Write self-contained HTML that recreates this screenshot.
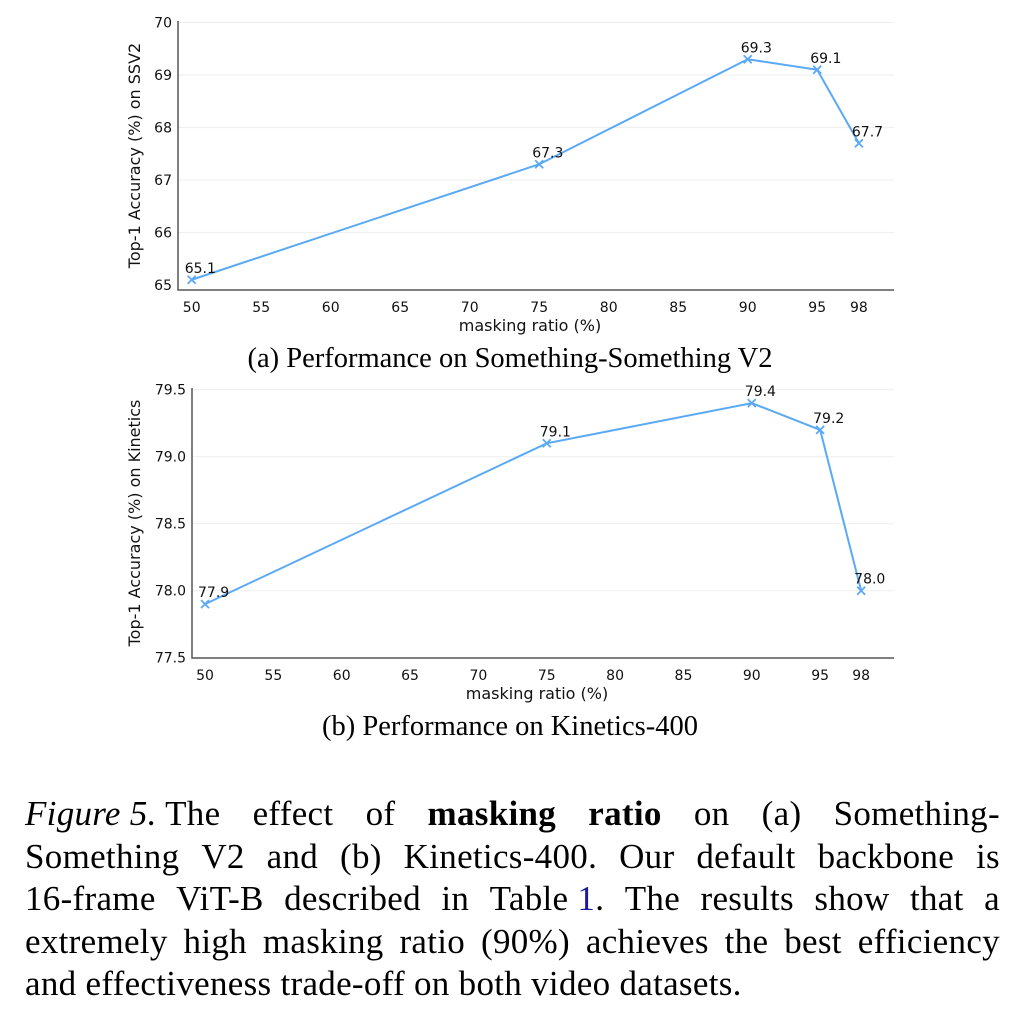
<!DOCTYPE html>
<html><head><meta charset="utf-8">
<style>
body{margin:0;background:#fff;width:1032px;height:1016px;overflow:hidden;position:relative;font-family:"Liberation Serif",serif}
svg{position:absolute;left:0;top:0}
.cap{position:absolute;font-size:28.5px;color:#000;text-align:center;width:1032px;left:0}
.ln{position:absolute;left:25px;width:975px;font-size:35px;letter-spacing:0.3px;line-height:34px;white-space:nowrap;display:flex;justify-content:space-between}
.ln.last{display:block}
</style></head><body>
<svg id="chart" width="1032" height="760" font-family="DejaVu Sans, sans-serif"></svg>
<div class="cap" style="top:343px;left:-6px">(a) Performance on Something-Something V2</div>
<div class="cap" style="top:711px;left:-6px">(b) Performance on Kinetics-400</div>
<div>
<div class="ln" style="top:797px"><span><i>Figure 5.</i> The</span><span>effect</span><span>of</span><b>masking</b><b>ratio</b><span>on</span><span>(a)</span><span>Something-</span></div>
<div class="ln" style="top:840px"><span>Something</span><span>V2</span><span>and</span><span>(b)</span><span>Kinetics-400.</span><span>Our</span><span>default</span><span>backbone</span><span>is</span></div>
<div class="ln" style="top:882px"><span>16-frame</span><span>ViT-B</span><span>described</span><span>in</span><span>Table <span style="color:#1a1a9a">1</span>.</span><span>The</span><span>results</span><span>show</span><span>that</span><span>a</span></div>
<div class="ln" style="top:925px"><span>extremely</span><span>high</span><span>masking</span><span>ratio</span><span>(90%)</span><span>achieves</span><span>the</span><span>best</span><span>efficiency</span></div>
<div class="ln last" style="top:967px">and effectiveness trade-off on both video datasets.</div>
</div>
<script>
const xCats=[50,75,90,95,98];
const xTicks=[50,55,60,65,70,75,80,85,90,95,98];
const ssv2Vals=[65.1,67.3,69.3,69.1,67.7];
const ssv2Ticks=[65,66,67,68,69,70];
const k400Vals=[77.9,79.1,79.4,79.2,78.0];
const k400Ticks=[77.5,78.0,78.5,79.0,79.5];
const NS='http://www.w3.org/2000/svg';
const svg=document.getElementById('chart');
function mk(tag,attrs,parent){const e=document.createElementNS(NS,tag);for(const k in attrs)e.setAttribute(k,attrs[k]);(parent||svg).appendChild(e);return e;}
function draw(cfg){
  const g=mk('g',{});
  
  
  const X=v=>cfg.x0+(v-50)*cfg.xs;
  const Y=v=>cfg.yBase-(v-cfg.yMin)*cfg.ys;
  cfg.yTicks.forEach((t,i)=>{
    const y=Y(t);
    if(i>0){const gl=mk('line',{x1:cfg.left,x2:cfg.right,y1:y,y2:y,stroke:'#f0f0f0','stroke-width':1.2},g);
    
    }
    const tx=mk('text',{x:cfg.left-6,y:y+5,'text-anchor':'end','font-size':14,fill:'#111'},g);
    tx.textContent=cfg.fmt(t);
    
    
  });
  xTicks.forEach(t=>{
    const tx=mk('text',{x:X(t),y:cfg.bottom+22,'text-anchor':'middle','font-size':14,fill:'#111'},g);
    tx.textContent=t;
    
    
  });
  const ax=mk('path',{d:`M${cfg.left},${cfg.top}V${cfg.bottom}H${cfg.right}`,fill:'none',stroke:'#555','stroke-width':1.5},g);
  
  
  const pts=xCats.map((c,i)=>X(c)+','+Y(cfg.vals[i])).join(' ');
  const pl=mk('polyline',{points:pts,fill:'none',stroke:'#5aa9f5','stroke-width':2},g);
  
  
  xCats.forEach((c,i)=>{
    const x=X(c),y=Y(cfg.vals[i]);
    const m=mk('path',{d:`M${x-4},${y-4}L${x+4},${y+4}M${x-4},${y+4}L${x+4},${y-4}`,stroke:'#5aa9f5','stroke-width':1.8},g);
    
    
    const t=mk('text',{x:x-7,y:y-7,'font-size':14,fill:'#111'},g);
    t.textContent=cfg.vals[i].toFixed(1);
    
    
  });
  const xl=mk('text',{x:(cfg.left+cfg.right)/2-6,y:cfg.bottom+41,'text-anchor':'middle','font-size':16,fill:'#111'},g);
  xl.textContent='masking ratio (%)';
  
  
  const cy=(cfg.top+cfg.bottom)/2;
  const yl=mk('text',{x:cfg.ylx,y:cy,'text-anchor':'middle','font-size':16,fill:'#111',transform:`rotate(-90 ${cfg.ylx} ${cy})`},g);
  yl.textContent=cfg.ylabel;
  
  
}
draw({name:'ssv2-chart',x0:191.7,xs:13.9,left:178,right:894,top:21,bottom:290,yBase:285,yMin:65,ys:52.5,
  yTicks:ssv2Ticks,vals:ssv2Vals,fmt:t=>t,ylabel:'Top-1 Accuracy (%) on SSV2',ylx:140});
draw({name:'kinetics-chart',x0:205,xs:13.67,left:192,right:894,top:388,bottom:658,yBase:657.7,yMin:77.5,ys:134,
  yTicks:k400Ticks,vals:k400Vals,fmt:t=>t.toFixed(1),ylabel:'Top-1 Accuracy (%) on Kinetics',ylx:140});
</script>
</body></html>
